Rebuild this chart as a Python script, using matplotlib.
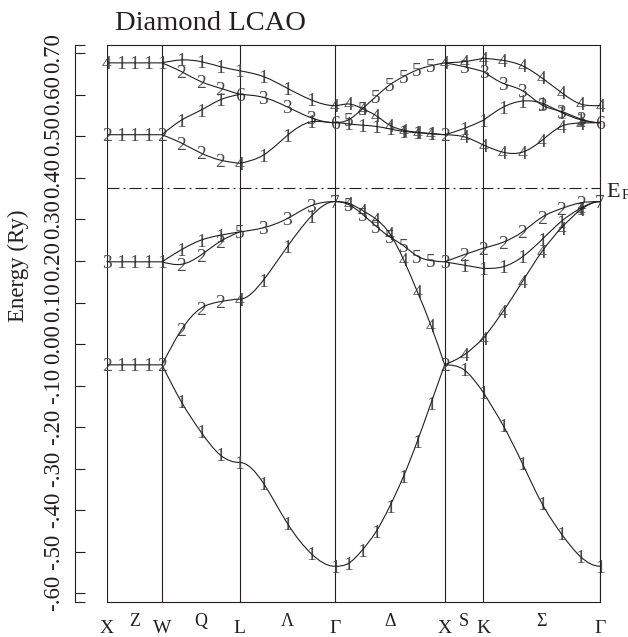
import numpy as np
import matplotlib
matplotlib.use("Agg")
import matplotlib.pyplot as plt
from matplotlib.path import Path
from matplotlib.patches import PathPatch

# ---- k-path through the fcc Brillouin zone ---------------------------------
point_names = ["X", "W", "L", "Γ", "X", "K", "Γ"]
line_names = ["Z", "Q", "Λ", "Δ", "S", "Σ"]
segment_lengths = [0.5, np.sqrt(2) / 2, np.sqrt(3) / 2, 1.0, np.sqrt(2) / 4, 3 * np.sqrt(2) / 4]
segment_steps = [4, 4, 4, 8, 2, 6]

# ---- levels at the symmetry points (Ry) and their irrep indices ------------
x_energy = [-0.050, 0.198, 0.504, 0.677]
x_irrep = ["2", "3", "2", "4"]
w_energy = [-0.050, 0.198, 0.504, 0.677]
w_irrep = ["2", "1", "2", "1"]
l_energy = [-0.285, 0.108, 0.270, 0.435, 0.601, 0.658]
l_irrep = ["1", "4", "5", "4", "6", "1"]
gamma_energy = [-0.535, 0.343, 0.533, 0.574]
gamma_irrep = ["1", "7", "6", "4"]
k_energy = [-0.117, 0.014, 0.182, 0.231, 0.479, 0.539, 0.656, 0.688]
k_irrep = ["1", "4", "1", "2", "4", "1", "3", "4"]

point_energy = [x_energy, w_energy, l_energy, gamma_energy, x_energy, k_energy, gamma_energy]
point_irrep = [x_irrep, w_irrep, l_irrep, gamma_irrep, x_irrep, k_irrep, gamma_irrep]

# ---- bands on each line: irrep indices of inner points, energies incl. ends
xw_bands = [
    ("111", [0.677, 0.677, 0.677, 0.677, 0.677]),
    ("111", [0.504, 0.504, 0.504, 0.504, 0.504]),
    ("111", [0.198, 0.198, 0.198, 0.198, 0.198]),
    ("111", [-0.050, -0.050, -0.050, -0.050, -0.050]),
]
wl_bands = [
    ("111", [0.677, 0.684, 0.680, 0.668, 0.658]),
    ("222", [0.677, 0.656, 0.632, 0.616, 0.601]),
    ("111", [0.504, 0.539, 0.563, 0.588, 0.601]),
    ("222", [0.504, 0.484, 0.460, 0.443, 0.435]),
    ("111", [0.198, 0.227, 0.250, 0.262, 0.270]),
    ("222", [0.198, 0.192, 0.214, 0.247, 0.270]),
    ("222", [-0.050, 0.034, 0.086, 0.102, 0.108]),
    ("111", [-0.050, -0.139, -0.211, -0.267, -0.285]),
]
lg_bands = [
    ("111", [0.658, 0.644, 0.616, 0.588, 0.574]),
    ("333", [0.601, 0.594, 0.571, 0.545, 0.533]),
    ("111", [0.435, 0.455, 0.502, 0.535, 0.533]),
    ("333", [0.270, 0.280, 0.302, 0.333, 0.343]),
    ("111", [0.108, 0.154, 0.234, 0.307, 0.343]),
    ("111", [-0.285, -0.335, -0.431, -0.504, -0.535]),
]
gx_bands = [
    ("5555555", [0.533, 0.540, 0.566, 0.596, 0.624, 0.644, 0.660, 0.670, 0.677]),
    ("4444444", [0.574, 0.578, 0.567, 0.550, 0.527, 0.515, 0.510, 0.507, 0.504]),
    ("1111111", [0.533, 0.530, 0.527, 0.524, 0.518, 0.512, 0.509, 0.506, 0.504]),
    ("4444444", [0.343, 0.339, 0.322, 0.301, 0.266, 0.204, 0.127, 0.045, -0.050]),
    ("5555555", [0.343, 0.336, 0.313, 0.284, 0.258, 0.237, 0.212, 0.201, 0.198]),
    ("1111111", [-0.535, -0.528, -0.496, -0.452, -0.391, -0.319, -0.235, -0.143, -0.050]),
]
xk_bands = [
    ("4", [0.677, 0.680, 0.688]),
    ("3", [0.677, 0.668, 0.656]),
    ("1", [0.504, 0.519, 0.539]),
    ("4", [0.504, 0.499, 0.479]),
    ("2", [0.198, 0.215, 0.231]),
    ("1", [0.198, 0.190, 0.182]),
    ("4", [-0.050, -0.026, 0.014]),
    ("1", [-0.050, -0.062, -0.117]),
]
kg_bands = [
    ("44444", [0.688, 0.683, 0.670, 0.641, 0.606, 0.578, 0.574]),
    ("33333", [0.656, 0.628, 0.610, 0.576, 0.560, 0.542, 0.533]),
    ("11111", [0.539, 0.570, 0.585, 0.580, 0.558, 0.540, 0.533]),
    ("44444", [0.479, 0.462, 0.462, 0.490, 0.524, 0.532, 0.533]),
    ("22222", [0.231, 0.245, 0.270, 0.305, 0.326, 0.340, 0.343]),
    ("11111", [0.182, 0.186, 0.210, 0.251, 0.295, 0.327, 0.343]),
    ("44444", [0.014, 0.078, 0.150, 0.222, 0.279, 0.323, 0.343]),
    ("11111", [-0.117, -0.195, -0.287, -0.383, -0.456, -0.512, -0.535]),
]
segment_bands = [xw_bands, wl_bands, lg_bands, gx_bands, xk_bands, kg_bands]

fermi_energy = 0.375
y_ticks = [0.70, 0.60, 0.50, 0.40, 0.30, 0.20, 0.10, 0.00, -0.10, -0.20, -0.30, -0.40, -0.50, -0.60]
y_tick_labels = ["0.70", "0.60", "0.50", "0.40", "0.30", "0.20", "0.10", "0.00",
                 "-.10", "-.20", "-.30", "-.40", "-.50", "-.60"]

# band ends that level off (zero slope) at a symmetry point: (left, right)
ALL = "all"
segment_flat = [
    ((), ()),
    ((), (6, 7)),
    ((4, 5), ALL),
    (ALL, ()),
    ((), ()),
    ((), ALL),
]

INK = "#231f20"
LABEL_INK = "#4a4a4a"
plt.rcParams["font.family"] = ["Liberation Serif", "DejaVu Serif"]


def spline_slopes(x, y, left=None, right=None):
    """Knot slopes of a cubic spline (natural or clamped ends)."""
    x = np.asarray(x, float)
    y = np.asarray(y, float)
    n = len(x)
    h = np.diff(x)
    d = np.diff(y) / h
    A = np.zeros((n, n))
    b = np.zeros(n)
    for i in range(1, n - 1):
        A[i, i - 1] = h[i]
        A[i, i] = 2 * (h[i - 1] + h[i])
        A[i, i + 1] = h[i - 1]
        b[i] = 3 * (h[i] * d[i - 1] + h[i - 1] * d[i])
    if left is None:
        A[0, 0], A[0, 1], b[0] = 2, 1, 3 * d[0]
    else:
        A[0, 0], b[0] = 1, left
    if right is None:
        A[-1, -2], A[-1, -1], b[-1] = 1, 2, 3 * d[-1]
    else:
        A[-1, -1], b[-1] = 1, right
    return np.linalg.solve(A, b)


def band_path(x, y, left=None, right=None):
    m = spline_slopes(x, y, left, right)
    verts = [(x[0], y[0])]
    codes = [Path.MOVETO]
    for i in range(len(x) - 1):
        h = x[i + 1] - x[i]
        verts += [(x[i] + h / 3, y[i] + m[i] * h / 3),
                  (x[i + 1] - h / 3, y[i + 1] - m[i + 1] * h / 3),
                  (x[i + 1], y[i + 1])]
        codes += [Path.CURVE4] * 3
    return Path(verts, codes)


def is_flat(spec, idx):
    return spec == ALL or idx in spec


fig = plt.figure(figsize=(6.28, 6.37), dpi=100)
ax = fig.add_axes([107 / 628, 1 - 602 / 637, 493 / 628, 557 / 637])

nodes = np.concatenate([[0.0], np.cumsum(segment_lengths)])
ax.set_xlim(nodes[0], nodes[-1])
ax.set_ylim(-0.621, 0.720)

# symmetry-point verticals
for xn in nodes:
    ax.axvline(xn, color=INK, lw=0.8, zorder=1)

# Fermi level
ax.axhline(fermi_energy, color=INK, lw=0.8, linestyle=(0, (10.8, 3.6, 1.8, 3.6)), zorder=1)

label_kw = dict(ha="center", va="center_baseline", fontsize=14, color=LABEL_INK, zorder=2)

for s, bands in enumerate(segment_bands):
    ks = np.linspace(nodes[s], nodes[s + 1], segment_steps[s] + 1)
    flat_left, flat_right = segment_flat[s]
    for j, (irreps, energy) in enumerate(bands):
        left = 0.0 if is_flat(flat_left, j) else None
        right = 0.0 if is_flat(flat_right, j) else None
        ax.add_patch(PathPatch(band_path(ks, energy, left, right), fill=False,
                               edgecolor=INK, lw=0.8, zorder=3))
        for k, e, lab in zip(ks[1:-1], energy[1:-1], irreps):
            ax.text(k, e, lab, **label_kw)

for xn, energies, irreps in zip(nodes, point_energy, point_irrep):
    for e, lab in zip(energies, irreps):
        ax.text(xn, e, lab, **label_kw)

# axes: offset left axis with inward ticks, closed frame
for side in ("top", "right", "bottom"):
    ax.spines[side].set_color(INK)
    ax.spines[side].set_linewidth(0.8)
ax.spines["left"].set_position(("outward", 23.0))
ax.spines["left"].set_color(INK)
ax.spines["left"].set_linewidth(0.8)
ax.set_yticks(y_ticks)
ax.set_yticklabels(y_tick_labels)
ax.set_yticks([-0.621, 0.720], minor=True)
ax.tick_params(axis="y", which="both", direction="in", length=7.2, width=0.8,
               color=INK, labelsize=16.5, labelcolor=INK, pad=8, labelrotation=90)
for t in ax.get_yticklabels():
    t.set_va("center")
ax.set_xticks([])

# k-path labels below the frame
xform = ax.get_xaxis_transform()
for xn, name in zip(nodes, point_names):
    ax.text(xn, -31 / 557, name, transform=xform, ha="center", va="baseline",
            fontsize=14, color=INK)
for a, b, name in zip(nodes[:-1], nodes[1:], line_names):
    ax.text((a + b) / 2, -24 / 557, name, transform=xform, ha="center", va="baseline",
            fontsize=13, color=INK)

fig.text(115 / 628, 1 - 30 / 637, "Diamond LCAO", ha="left", va="baseline",
         fontsize=20.5, color=INK)
fig.text(18 / 628, 1 - 265.5 / 637, "Energy (Ry)", rotation=90, ha="center", va="center",
         fontsize=16.5, color=INK)
fig.text(606 / 628, 1 - 196.7 / 637, "E", ha="left", va="baseline", fontsize=16, color=INK)
fig.text(622 / 628, 1 - 199 / 637, "F", ha="left", va="baseline", fontsize=10.5, color=INK)

fig.savefig("out.png", dpi=100)
